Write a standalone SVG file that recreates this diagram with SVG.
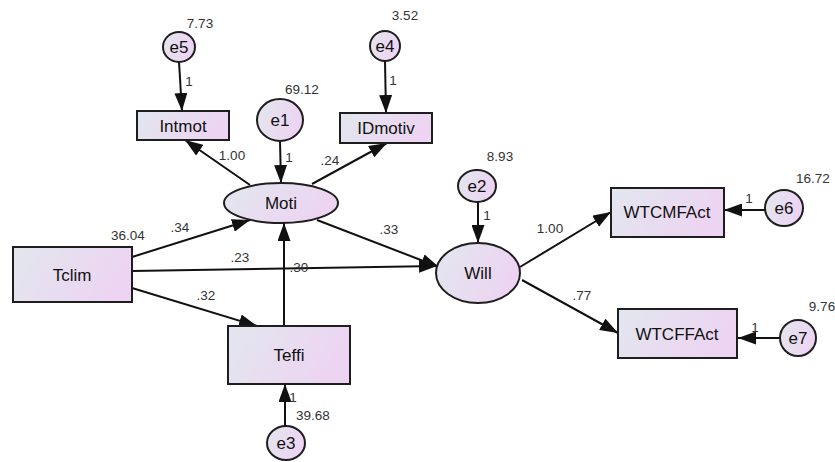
<svg xmlns="http://www.w3.org/2000/svg" width="835" height="462" viewBox="0 0 835 462">
<style>
.nd{stroke:#1e1e1e;stroke-width:2;fill:url(#g)}
.lb{font-family:"Liberation Sans",Arial,sans-serif;font-size:17px;fill:#111;text-anchor:middle}
.num{font-family:"Liberation Sans",Arial,sans-serif;font-size:13.5px;fill:#333;text-anchor:middle}
.ln{stroke:#111;stroke-width:2;fill:none;marker-end:url(#ah)}
</style>
<defs>
<linearGradient id="g" x1="0" y1="0" x2="1" y2="0.3">
<stop offset="0" stop-color="#e2e7ee"/>
<stop offset="1" stop-color="#edd4f2"/>
</linearGradient>
<marker id="ah" markerUnits="userSpaceOnUse" markerWidth="18" markerHeight="13" refX="18" refY="6.5" orient="auto">
<path d="M0,0 L18,6.5 L0,13 z" fill="#111"/>
</marker>
</defs>
<rect width="835" height="462" fill="#fff"/>
<g id="connectors">
<line class="ln" x1="179" y1="62" x2="182" y2="111"/>
<line class="ln" x1="385" y1="61" x2="386" y2="113"/>
<line class="ln" x1="280" y1="141" x2="281" y2="183"/>
<line class="ln" x1="250" y1="185" x2="185" y2="140"/>
<line class="ln" x1="312" y1="184" x2="387" y2="143"/>
<line class="ln" x1="132" y1="257" x2="250" y2="220"/>
<line class="ln" x1="132" y1="271" x2="437" y2="266"/>
<line class="ln" x1="132" y1="288" x2="257" y2="326"/>
<line class="ln" x1="284" y1="326" x2="284" y2="223"/>
<line class="ln" x1="317" y1="220" x2="439" y2="267"/>
<line class="ln" x1="478" y1="202" x2="478" y2="243"/>
<line class="ln" x1="520" y1="267" x2="611" y2="212"/>
<line class="ln" x1="522" y1="280" x2="618" y2="333"/>
<line class="ln" x1="765" y1="210" x2="724" y2="210"/>
<line class="ln" x1="780" y1="338" x2="738" y2="338"/>
<line class="ln" x1="285" y1="426" x2="285" y2="384"/>
<text class="num" x="189" y="86">1</text>
<text class="num" x="393" y="85">1</text>
<text class="num" x="289" y="162">1</text>
<text class="num" x="232" y="160">1.00</text>
<text class="num" x="330" y="165">.24</text>
<text class="num" x="180" y="232">.34</text>
<text class="num" x="240" y="262">.23</text>
<text class="num" x="299" y="272">.30</text>
<text class="num" x="206" y="300">.32</text>
<text class="num" x="389" y="234">.33</text>
<text class="num" x="487" y="220">1</text>
<text class="num" x="550" y="233">1.00</text>
<text class="num" x="582" y="300">.77</text>
<text class="num" x="749" y="203">1</text>
<text class="num" x="755" y="332">1</text>
<text class="num" x="293" y="402">1</text>
</g>
<g id="Intmot"><rect class="nd" x="137" y="111" width="92" height="29"/><text class="lb" x="183" y="132">Intmot</text></g>
<g id="IDmotiv"><rect class="nd" x="340" y="113" width="92" height="30"/><text class="lb" x="386" y="134">IDmotiv</text></g>
<g id="Moti"><ellipse class="nd" cx="281" cy="203" rx="57" ry="20"/><text class="lb" x="281" y="209">Moti</text></g>
<g id="Will"><ellipse class="nd" cx="478" cy="273" rx="42" ry="30"/><text class="lb" x="478" y="279">Will</text></g>
<g id="Tclim"><rect class="nd" x="13" y="247" width="119" height="55"/><text class="lb" x="72" y="281">Tclim</text></g>
<g id="Teffi"><rect class="nd" x="228" y="326" width="122" height="58"/><text class="lb" x="289" y="361">Teffi</text></g>
<g id="WTCMFAct"><rect class="nd" x="611" y="188" width="113" height="49"/><text class="lb" x="667" y="218">WTCMFAct</text></g>
<g id="WTCFFAct"><rect class="nd" x="618" y="309" width="119" height="49"/><text class="lb" x="677" y="340">WTCFFAct</text></g>
<g id="e1"><ellipse class="nd" cx="280" cy="120" rx="23" ry="21"/><text class="lb" x="280" y="126">e1</text><text class="num" x="302" y="94">69.12</text></g>
<g id="e2"><ellipse class="nd" cx="477" cy="186" rx="19" ry="16"/><text class="lb" x="477" y="192">e2</text><text class="num" x="500" y="161">8.93</text></g>
<g id="e3"><ellipse class="nd" cx="286" cy="443" rx="19" ry="17"/><text class="lb" x="286" y="449">e3</text><text class="num" x="313" y="420">39.68</text></g>
<g id="e4"><ellipse class="nd" cx="385" cy="46" rx="15" ry="15"/><text class="lb" x="385" y="52">e4</text><text class="num" x="405" y="20">3.52</text></g>
<g id="e5"><ellipse class="nd" cx="179" cy="47" rx="16" ry="15"/><text class="lb" x="179" y="53">e5</text><text class="num" x="200" y="28">7.73</text></g>
<g id="e6"><ellipse class="nd" cx="784" cy="208" rx="19" ry="18"/><text class="lb" x="784" y="214">e6</text><text class="num" x="813" y="183">16.72</text></g>
<g id="e7"><ellipse class="nd" cx="798" cy="338" rx="18" ry="18"/><text class="lb" x="798" y="344">e7</text><text class="num" x="822" y="311">9.76</text></g>
<g id="Tclim-var"><text class="num" x="128" y="240">36.04</text></g>
</svg>
